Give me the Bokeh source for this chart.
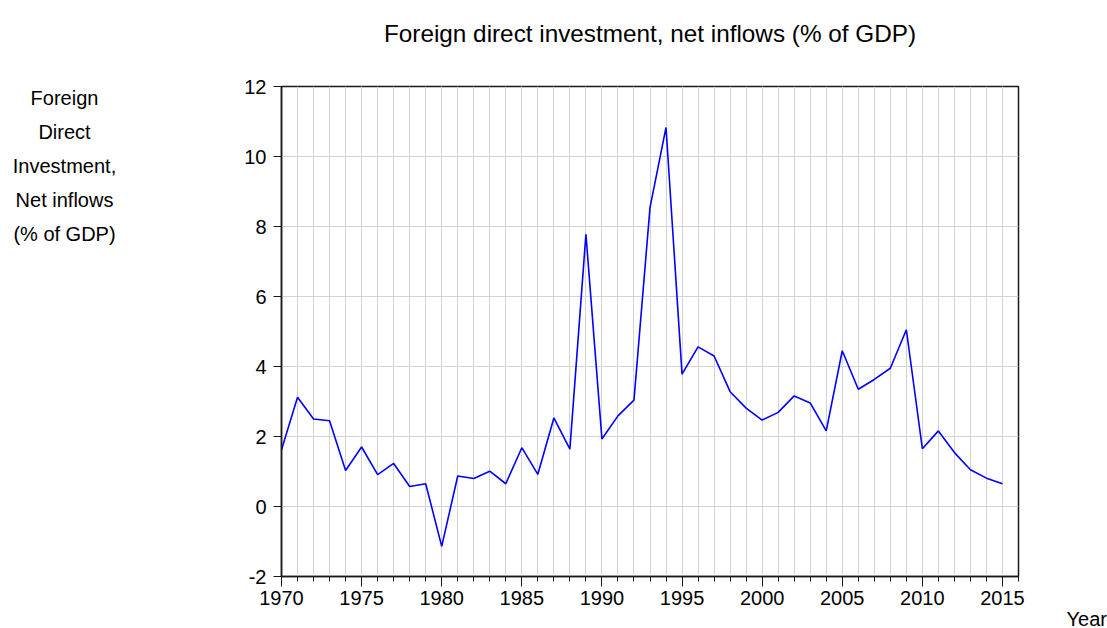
from bokeh.plotting import figure
from bokeh.models import Range1d, SingleIntervalTicker, PrintfTickFormatter
from bokeh.layouts import column, row
from bokeh.core.properties import value
from bokeh.embed import file_html
from bokeh.resources import INLINE

# ---- data ----
years = list(range(1970, 2016))
fdi = [1.62, 3.12, 2.50, 2.45, 1.03, 1.70, 0.91, 1.23, 0.57, 0.65,
       -1.14, 0.87, 0.80, 1.01, 0.65, 1.68, 0.92, 2.53, 1.64, 7.78,
       1.93, 2.59, 3.04, 8.54, 10.83, 3.78, 4.56, 4.30, 3.28, 2.81,
       2.47, 2.69, 3.16, 2.96, 2.16, 4.45, 3.35, 3.63, 3.95, 5.05,
       1.65, 2.16, 1.54, 1.05, 0.81, 0.65]
title_text = "Foreign direct investment, net inflows (% of GDP)"
ylabel_lines = ["Foreign", "Direct", "Investment,", "Net inflows", "(% of GDP)"]
xlabel_text = "Year"

FONT = "Liberation Sans"
TOP_H = 66
LEFT_W, MAIN_W, RIGHT_W = 200, 829, 78
BODY_H = 562


def blank(w, h):
    f = figure(width=w, height=h, output_backend="svg", toolbar_location=None,
               x_range=Range1d(0, w), y_range=Range1d(h, 0),
               x_axis_type=None, y_axis_type=None, frame_align=False)
    f.min_border = 0
    f.min_border_left = f.min_border_right = 0
    f.min_border_top = f.min_border_bottom = 0
    f.outline_line_color = None
    f.grid.visible = False
    f.background_fill_color = "white"
    f.border_fill_color = "white"
    return f


# title strip
top = blank(LEFT_W + MAIN_W + RIGHT_W, TOP_H)
top.text(x=[649.5], y=[33], text=[title_text], text_font=value(FONT),
         text_font_size="24.3px", text_align="center", text_baseline="middle",
         text_color="black")

# left strip with multi-line axis caption
left = blank(LEFT_W, BODY_H)
left.text(x=[64] * len(ylabel_lines), y=[31.5, 65.5, 99.5, 133.5, 167.5],
          text=ylabel_lines, text_font=value(FONT), text_font_size="20px",
          text_align="center", text_baseline="middle", text_color="black")

# right strip with "Year"
right = blank(RIGHT_W, BODY_H)
right.text(x=[37], y=[552], text=[xlabel_text], text_font=value(FONT),
           text_font_size="20px", text_align="left", text_baseline="middle",
           text_color="black")

# main chart
p = figure(width=MAIN_W, height=BODY_H, output_backend="svg", toolbar_location=None,
           x_range=Range1d(1970, 2016), y_range=Range1d(-2, 12), frame_align=False)
p.min_border_left = 81
p.min_border_right = 11
p.min_border_top = 20
p.min_border_bottom = 52
p.background_fill_color = "white"
p.border_fill_color = "white"
p.outline_line_color = "#1a1a1a"
p.outline_line_width = 1.5

p.xaxis.ticker = SingleIntervalTicker(interval=5, num_minor_ticks=5)
p.yaxis.ticker = SingleIntervalTicker(interval=2, num_minor_ticks=0)
p.yaxis.formatter = PrintfTickFormatter(format="%d")
for ax in (p.xaxis, p.yaxis):
    ax.axis_line_color = "#1a1a1a"
    ax.axis_line_width = 1.5
    ax.major_tick_line_color = "#1a1a1a"
    ax.minor_tick_line_color = "#1a1a1a"
    ax.major_label_text_font = FONT
    ax.major_label_text_font_size = "20px"
    ax.major_label_text_color = "black"
    ax.major_tick_in = 0
    ax.minor_tick_in = 0
p.xaxis.major_tick_out = 10
p.xaxis.minor_tick_out = 5
p.xaxis.major_label_standoff = 4
p.yaxis.major_tick_out = 8
p.yaxis.minor_tick_out = 0
p.yaxis.major_label_standoff = 7

p.xgrid.grid_line_color = "#d3d3d3"
p.xgrid.minor_grid_line_color = "#d3d3d3"
p.ygrid.grid_line_color = "#d3d3d3"
p.xgrid.grid_line_width = 1
p.ygrid.grid_line_width = 1

p.line(years, fdi, line_color="#0000ff", line_width=1.6)

layout = column(top, row(left, p, right))
open("out.html", "w").write(file_html(layout, INLINE))
